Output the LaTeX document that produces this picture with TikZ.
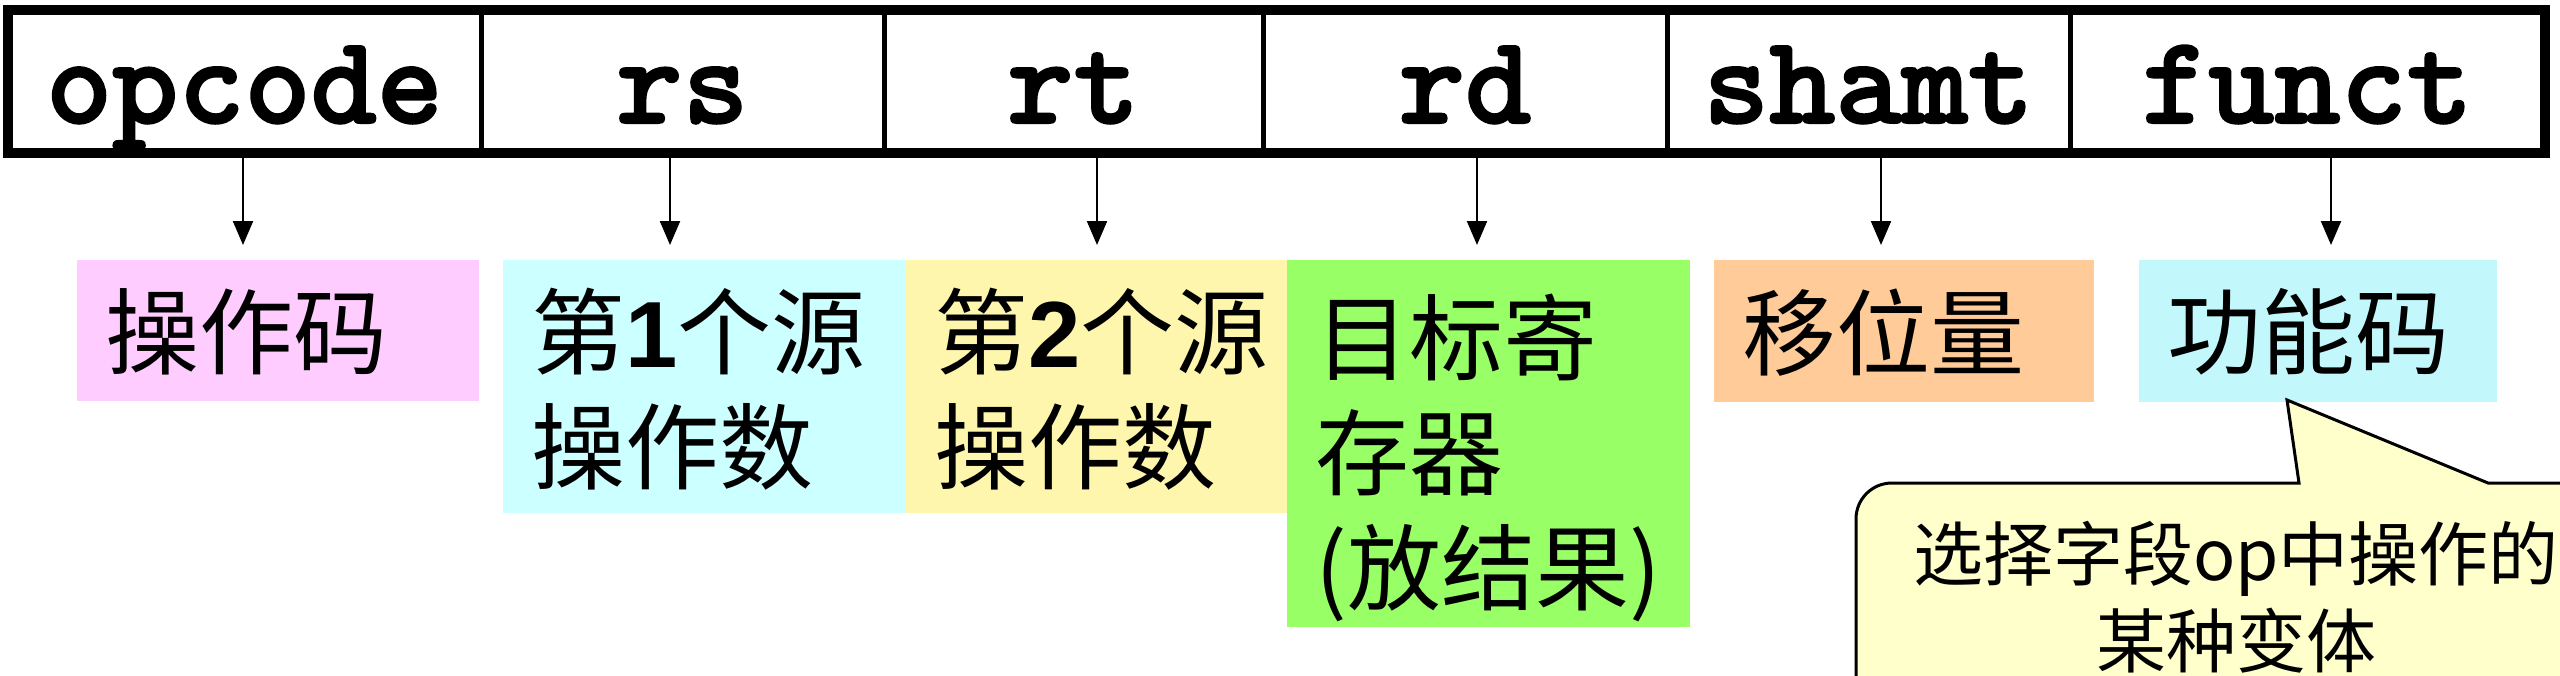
\documentclass[tikz,border=0pt]{standalone}
\usepackage{fontspec}
\newfontfamily\cjk{Noto Sans CJK SC}
\newfontfamily\digitfont{Liberation Sans}
\newfontfamily\monob{lmmonolt10-bold}[Extension=.otf, FakeBold=1.6]
\usetikzlibrary{arrows.meta,calc}
\definecolor{cPink}{HTML}{FFCCFF}
\definecolor{cCyan}{HTML}{CCFFFF}
\definecolor{cYellow}{HTML}{FFF6AE}
\definecolor{cGreen}{HTML}{99FF66}
\definecolor{cOrange}{HTML}{FFCC99}
\definecolor{cAqua}{HTML}{C2F8FC}
\definecolor{cBubble}{HTML}{FFFFCC}
\newcommand{\dg}[1]{{\digitfont\bfseries #1}}
\begin{document}
\begin{tikzpicture}[x=0.5pt,y=-0.5pt,
  cell/.style={draw, line width=2.5pt, minimum height=71.5pt, inner sep=0pt,
    text height=45pt, text depth=3.5pt, font=\fontsize{63pt}{63pt}\selectfont\monob},
  frame/.style={draw, line width=5pt, minimum width=1268.5pt, minimum height=71.5pt, inner sep=0pt},
  box/.style={rectangle, inner sep=0pt, outer sep=0pt, draw=none},
  lbl/.style={anchor=north west, inner sep=0pt, align=left, font=\fontsize{47pt}{57.5pt}\selectfont\cjk},
  arr/.style={-{Triangle[width=10pt,length=12pt]}, line width=1.1pt},
  bubble/.style={draw, fill=cBubble, line width=1.5pt, line join=miter},
  btext/.style={anchor=north, inner sep=0pt, align=center, font=\fontsize{35pt}{43.5pt}\selectfont\cjk}]
\useasboundingbox (0,0) rectangle (2560,675);
\clip (0,0) rectangle (2560,675);

% field cells
\node[cell, minimum width=236.5pt] (op) at (244.5,81.5) {opcode};
\node[cell, minimum width=201.5pt] (rs) at (682.5,81.5) {rs};
\node[cell, minimum width=189.5pt] (rt) at (1073.5,81.5) {rt};
\node[cell, minimum width=202pt]   (rd) at (1465,81.5) {rd};
\node[cell, minimum width=201.5pt] (sh) at (1868.5,81.5) {shamt};
\node[cell, minimum width=237.5pt] (fn) at (2307.5,81.5) {funct};
\node[frame] (frame) at (1276.5,81.5) {};

% label boxes
\node[box, fill=cPink,   minimum width=201pt,   minimum height=70.5pt]  (b1) at (278,330.5) {};
\node[box, fill=cCyan,   minimum width=201.5pt, minimum height=126.5pt] (b2) at (704.5,386.5) {};
\node[box, fill=cYellow, minimum width=190.5pt, minimum height=126.5pt] (b3) at (1096.5,386.5) {};
\node[box, fill=cGreen,  minimum width=201.5pt, minimum height=183.5pt] (b4) at (1488.5,443.5) {};
\node[box, fill=cOrange, minimum width=190pt,   minimum height=71pt]    (b5) at (1904,331) {};
\node[box, fill=cAqua,   minimum width=179pt,   minimum height=71pt]    (b6) at (2318,331) {};

\node[lbl] (l1) at ($(b1.north west)+(28,28)$) {操作码};
\node[lbl] (l2) at ($(b2.north west)+(28,28)$) {第\dg{1}个源\\操作数};
\node[lbl] (l3) at ($(b3.north west)+(28,28)$) {第\dg{2}个源\\操作数};
\node[lbl] (l4) at ($(b4.north west)+(28,34)$) {目标寄\\存器\\(放结果)};
\node[lbl] (l5) at ($(b5.north west)+(28,28)$) {移位量};
\node[lbl] (l6) at ($(b6.north west)+(28,28)$) {功能码};

% arrows
\coordinate (t1) at (243,245);
\coordinate (t2) at (670,245);
\coordinate (t3) at (1097,245);
\coordinate (t4) at (1477,245);
\coordinate (t5) at (1881,245);
\coordinate (t6) at (2331,245);
\draw[arr] (frame.south -| t1) -- (t1);
\draw[arr] (frame.south -| t2) -- (t2);
\draw[arr] (frame.south -| t3) -- (t3);
\draw[arr] (frame.south -| t4) -- (t4);
\draw[arr] (frame.south -| t5) -- (t5);
\draw[arr] (frame.south -| t6) -- (t6);

% speech bubble
\coordinate (tip) at (2287,400);
\draw[bubble] (1856,720) -- (1856,519) .. controls (1856,499) and (1872,483) .. (1892,483)
  -- (2299,483) -- (tip) -- (2488,483) -- (2660,483) -- (2660,720) -- cycle;
\node[btext] (bt) at (2236,521) {选择字段op中操作的\\某种变体};
\end{tikzpicture}
\end{document}
